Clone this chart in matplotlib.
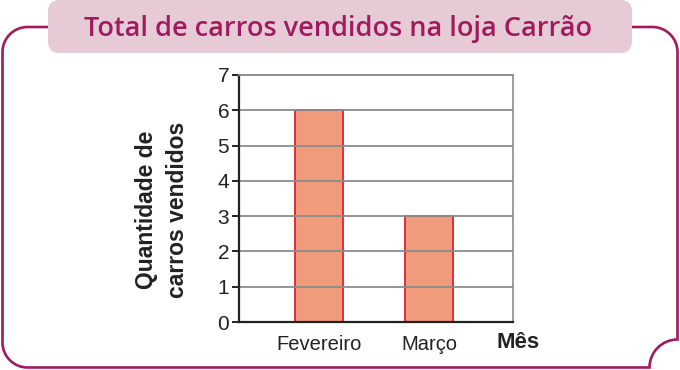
import numpy as np
import matplotlib
matplotlib.use("Agg")
import matplotlib.pyplot as plt
from matplotlib.path import Path
from matplotlib.patches import PathPatch, FancyBboxPatch

# data
meses = ["Fevereiro", "Março"]
carros = [6, 3]
yticks = [0, 1, 2, 3, 4, 5, 6, 7]
titulo = "Total de carros vendidos na loja Carrão"

magenta = "#a21a5e"
rosa = "#e6cbd7"
barra = "#f09b7c"
borda = "#e31e2d"
cinza = "#8c8c8c"

fig = plt.figure(figsize=(6.8, 3.7), dpi=100)

# background layer in pixel units (y down)
bg = fig.add_axes([0, 0, 1, 1])
bg.set_xlim(0, 680)
bg.set_ylim(370, 0)
bg.axis("off")

L, R, T, B = 2.5, 677.5, 27, 367.5
r = 25
n = 28
k = 0.5523
verts = [
    (L, T + r), (L, B - r),
    (L, B - r + k * r), (L + r - k * r, B), (L + r, B),
    (R - n, B),
    (R - n, B - k * n), (R - k * n, B - n), (R, B - n),
    (R, T + r),
    (R, T + r - k * r), (R - r + k * r, T), (R - r, T),
    (L + r, T),
    (L + r - k * r, T), (L, T + r - k * r), (L, T + r),
]
codes = [Path.MOVETO, Path.LINETO,
         Path.CURVE4, Path.CURVE4, Path.CURVE4,
         Path.LINETO,
         Path.CURVE4, Path.CURVE4, Path.CURVE4,
         Path.LINETO,
         Path.CURVE4, Path.CURVE4, Path.CURVE4,
         Path.LINETO,
         Path.CURVE4, Path.CURVE4, Path.CURVE4]
bg.add_patch(PathPatch(Path(verts, codes), fill=False, edgecolor=magenta, lw=1.9))

bg.add_patch(FancyBboxPatch((48, 0), 584, 53, boxstyle="round,pad=0,rounding_size=12",
                            facecolor=rosa, edgecolor="none"))
bg.text(338, 36, titulo, ha="center", va="baseline", color=magenta,
        fontsize=19.5, family="Open Sans", fontweight="semibold")

# chart
ax = fig.add_axes([239 / 680, (370 - 322) / 370, 274 / 680, 247 / 370])
x = np.arange(len(meses))
ax.bar(x, carros, width=0.436, color=barra, edgecolor=borda, linewidth=1.3, zorder=1)
ax.set_xlim(-0.727, 1.76)
ax.set_ylim(0, 7)
ax.set_yticks(yticks)
ax.set_xticks(x)
ax.set_xticklabels(meses, family="Liberation Sans", fontsize=14.5, color="#222222")
ax.tick_params(axis="x", length=0, pad=9)
ax.tick_params(axis="y", length=5, width=1.4, color="#222222", pad=2,
               labelsize=15, labelcolor="#222222")
for lab in ax.get_yticklabels():
    lab.set_family("Liberation Sans")
ax.grid(axis="y", color=cinza, lw=1.3, zorder=2)
ax.set_axisbelow(False)
ax.spines["left"].set_color("#222222")
ax.spines["left"].set_linewidth(1.6)
ax.spines["bottom"].set_color("#222222")
ax.spines["bottom"].set_linewidth(1.6)
ax.spines["right"].set_color(cinza)
ax.spines["right"].set_linewidth(1.2)
ax.spines["top"].set_color(cinza)
ax.spines["top"].set_linewidth(1.3)
for s in ax.spines.values():
    s.set_zorder(3)

fig.text(518 / 680, 1 - 342 / 370, "Mês", ha="center", va="center",
         family="Liberation Sans", fontweight="bold", fontsize=16, color="#222222")
fig.text(147 / 680, 1 - 210 / 370, "Quantidade de", rotation=90, ha="center", va="center",
         family="Liberation Sans", fontweight="bold", fontsize=16.5, color="#222222")
fig.text(178 / 680, 1 - 210 / 370, "carros vendidos", rotation=90, ha="center", va="center",
         family="Liberation Sans", fontweight="bold", fontsize=16.5, color="#222222")

fig.savefig("out.png", dpi=100)
